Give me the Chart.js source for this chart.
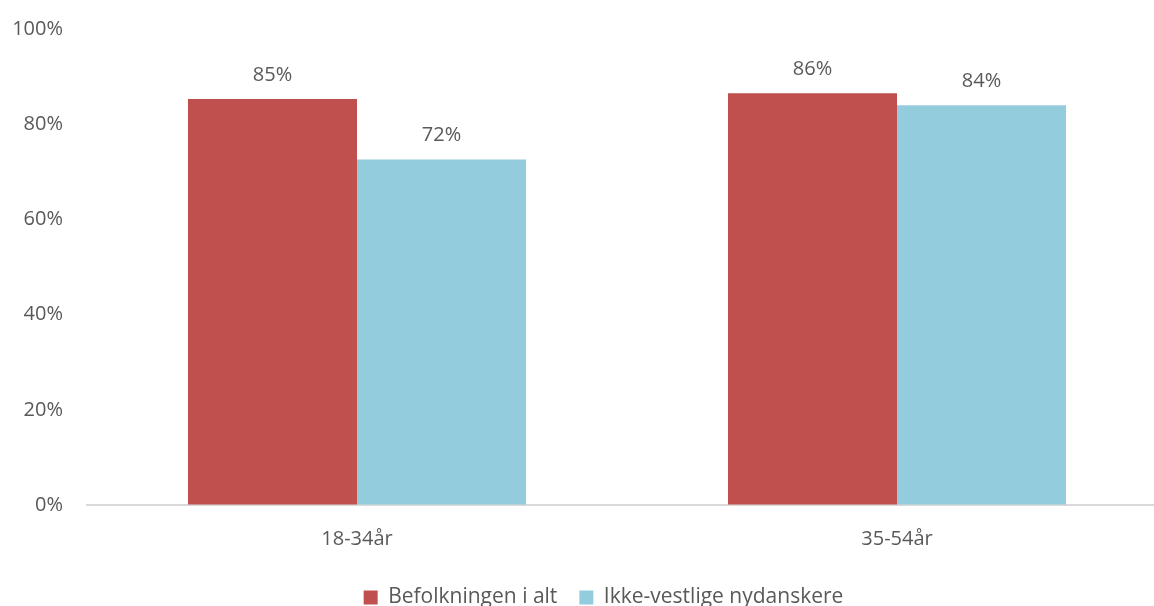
<!DOCTYPE html>
<html>
<head>
<meta charset="utf-8">
<script src="https://cdn.jsdelivr.net/npm/chart.js@4"></script>
<style>
    html, body { margin: 0; padding: 0; background: #fff; overflow: hidden; }
    #wrap { position: relative; width: 1200px; height: 618px; }
</style>
</head>
<body>
<div id="wrap"><canvas id="chart"></canvas></div>
<script>
const categories = ['18-34år', '35-54år'];
const seriesNames = ['Befolkningen i alt', 'Ikke-vestlige nydanskere'];
const befolkning = [85.3, 86.5];
const nydanskere = [72.6, 84.0];
const barLabels = [['85%', '86%'], ['72%', '84%']];

const palette = {
    red: '#C0504D',
    blue: '#93CDDD',
    text: '#595959',
    axis: '#D9D9D9',
};
const font = 'Open Sans, sans-serif';

const valueLabels = {
    id: 'valueLabels',
    afterDatasetsDraw(chart) {
        const ctx = chart.ctx;
        ctx.save();
        ctx.fillStyle = palette.text;
        ctx.font = '20px ' + font;
        ctx.textAlign = 'center';
        ctx.textBaseline = 'middle';
        chart.data.datasets.forEach((ds, i) => {
            chart.getDatasetMeta(i).data.forEach((bar, j) => {
                ctx.fillText(barLabels[i][j], bar.x, bar.y - 24);
            });
        });
        ctx.restore();
    },
};

// the legend in the original sits a bit right of the plot centre
const legendShift = {
    id: 'legendShift',
    afterLayout(chart) {
        chart.legend.left += 20;
        chart.legend.right += 20;
    },
};

new Chart(document.getElementById('chart'), {
    type: 'bar',
    data: {
        labels: categories,
        datasets: [
            { label: seriesNames[0], data: befolkning, backgroundColor: palette.red },
            { label: seriesNames[1], data: nydanskere, backgroundColor: palette.blue },
        ],
    },
    options: {
        responsive: true,
        maintainAspectRatio: false,
        animation: false,
        layout: { padding: { top: 29, right: 33, left: 0, bottom: 0 } },
        datasets: { bar: { categoryPercentage: 0.626, barPercentage: 1 } },
        plugins: {
            tooltip: { enabled: false },
            legend: {
                position: 'bottom',
                labels: {
                    color: palette.text,
                    font: { family: font, size: 21 },
                    boxWidth: 14,
                    boxHeight: 14,
                    padding: 22,
                },
            },
        },
        scales: {
            x: {
                grid: { display: false, drawTicks: false },
                border: { color: palette.axis, width: 2 },
                ticks: { color: palette.text, font: { family: font, size: 20 }, padding: 22 },
                afterFit: s => { s.height = 60; },
            },
            y: {
                min: 0,
                max: 100,
                grid: { drawOnChartArea: false, drawTicks: true, tickLength: 20, color: 'transparent' },
                border: { display: false },
                ticks: {
                    stepSize: 20,
                    color: palette.text,
                    font: { family: font, size: 20 },
                    padding: 4,
                    callback: v => v + '%',
                },
                afterFit: s => { s.width = 87; },
            },
        },
    },
    plugins: [valueLabels, legendShift],
});
</script>
</body>
</html>
